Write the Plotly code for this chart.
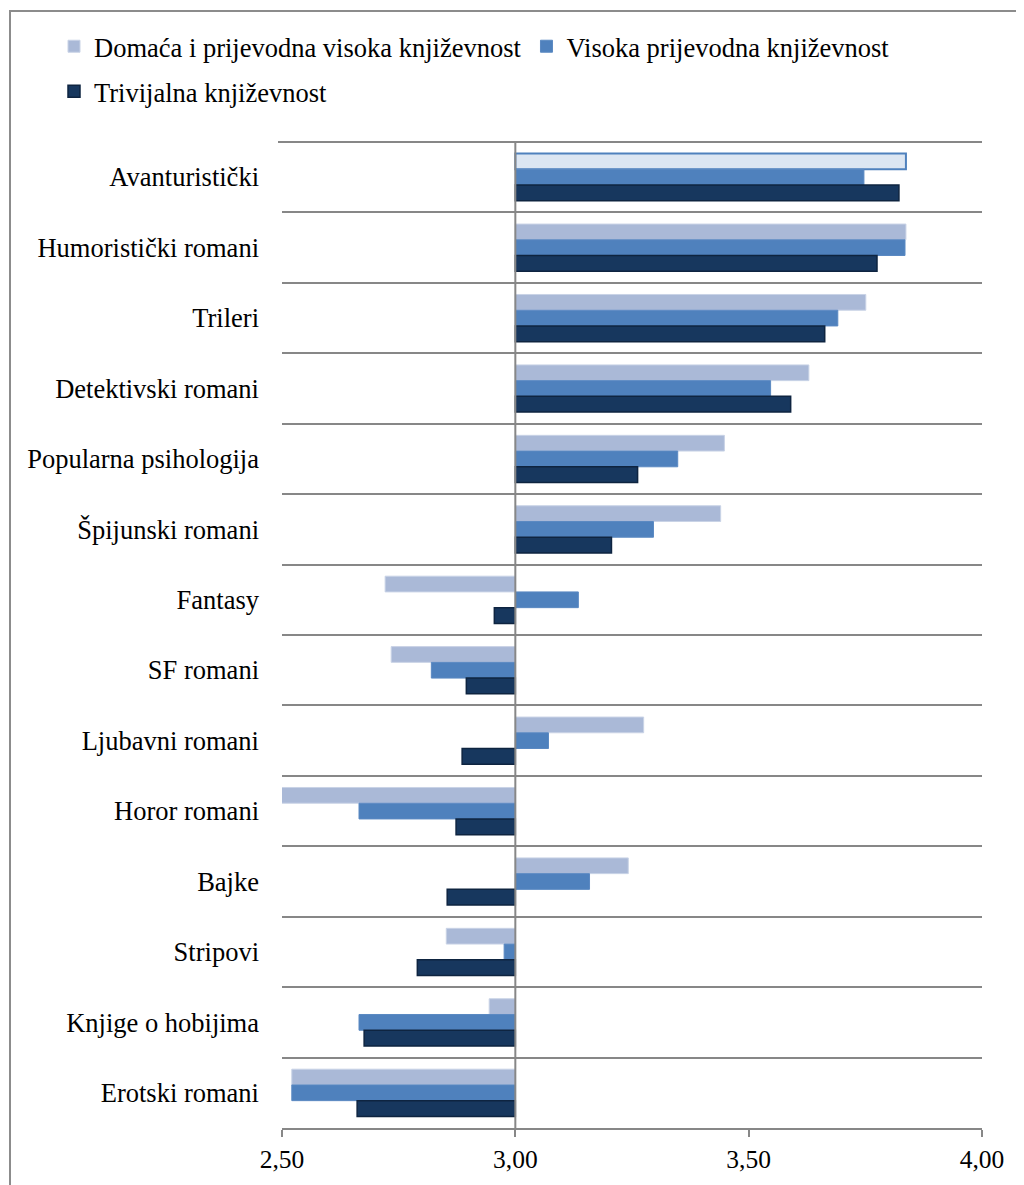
import plotly.graph_objects as go

categories = ["Avanturistički", "Humoristički romani", "Trileri", "Detektivski romani",
              "Popularna psihologija", "Špijunski romani", "Fantasy", "SF romani",
              "Ljubavni romani", "Horor romani", "Bajke", "Stripovi",
              "Knjige o hobijima", "Erotski romani"]

series_names = ["Domaća i prijevodna visoka književnost",
                "Visoka prijevodna književnost",
                "Trivijalna književnost"]

domaca = [3.837, 3.837, 3.751, 3.629, 3.448, 3.440, 2.721, 2.734, 3.275, 2.49, 3.242, 2.852, 2.944, 2.521]
visoka = [3.747, 3.835, 3.691, 3.547, 3.348, 3.296, 3.135, 2.820, 3.071, 2.665, 3.159, 2.976, 2.665, 2.521]
trivijalna = [3.822, 3.775, 3.663, 3.590, 3.262, 3.206, 2.955, 2.895, 2.886, 2.873, 2.854, 2.790, 2.676, 2.661]

base_value = 3.0
x_ticks = [2.5, 3.0, 3.5, 4.0]

FONT = "Liberation Serif, Times New Roman, serif"
GRID = "#878787"

# the page body has an 8px margin; positions below are given in page pixels
OFF = 8
W, H = 1016, 1177
PL, PR, PT, PB = 282, 982, 142, 1128          # plot area in page pixels
ML, MT = PL - OFF, PT - OFF
MR = W - (PR - OFF)
MB = H - (PB - OFF)
PW, PH = PR - PL, PB - PT


def px_x(px):
    return (px - PL) / PW


def px_y(py):
    return 1 + (PT - py) / PH


fig = go.Figure()

n = len(categories)
light_fill = ["#DCE6F2"] + ["#AAB9D7"] * (n - 1)
light_line = ["#4F81BD"] + ["#C9D3E6"] * (n - 1)
light_lw = [2] + [1] * (n - 1)

specs = [
    (domaca, dict(color=light_fill[::-1], line=dict(color=light_line[::-1], width=light_lw[::-1])), "legend"),
    (visoka, dict(color="#4F81BD", line=dict(color="#5B89C2", width=1)), "legend"),
    (trivijalna, dict(color="#17375E", line=dict(color="#0E2440", width=1.5)), "legend2"),
]

# data passed bottom-to-top so the legend swatch takes a regular point's style
for name, (vals, marker, leg) in zip(series_names, specs):
    fig.add_trace(go.Bar(
        name=name,
        y=categories[::-1],
        x=[v - base_value for v in vals[::-1]],
        base=base_value,
        orientation="h",
        marker=marker,
        legend=leg,
        customdata=vals[::-1],
        hovertemplate="%{y}: %{customdata:.2f}<extra>" + name + "</extra>",
    ))

fig.update_layout(
    width=W, height=H,
    margin=dict(l=ML, r=MR, t=MT, b=MB, pad=0),
    paper_bgcolor="white", plot_bgcolor="white",
    barmode="group", bargap=0.33, bargroupgap=0,
    separators=", ",
    font=dict(family=FONT, size=26, color="#000000"),
    showlegend=True,
    legend=dict(orientation="h", x=px_x(54), xanchor="left", y=px_y(46.5), yanchor="middle",
                font=dict(family=FONT, size=26.5, color="#000"), itemwidth=30,
                bgcolor="rgba(0,0,0,0)", traceorder="normal"),
    legend2=dict(orientation="h", x=px_x(54), xanchor="left", y=px_y(91.5), yanchor="middle",
                 font=dict(family=FONT, size=26.5, color="#000"), itemwidth=30,
                 bgcolor="rgba(0,0,0,0)"),
    xaxis=dict(range=[2.5, 4.0], tickvals=x_ticks, tickformat=".2f",
               showgrid=False, zeroline=False, showline=True, linecolor=GRID, linewidth=2,
               ticks="outside", ticklen=7, tickcolor=GRID, tickwidth=2,
               tickfont=dict(family=FONT, size=25.5, color="#000")),
    yaxis=dict(type="category", categoryorder="array", categoryarray=categories,
               autorange="reversed", tickson="boundaries",
               showgrid=True, gridcolor=GRID, gridwidth=2, showline=False,
               ticks="", ticklabelstandoff=22,
               tickfont=dict(family=FONT, size=26.5, color="#000")),
)

# vertical axis line crossing at 3,00
fig.add_shape(type="line", xref="x", yref="paper", x0=base_value, x1=base_value, y0=0, y1=1,
              line=dict(color=GRID, width=2), layer="above")
# top gridline of plot area
fig.add_shape(type="line", xref="paper", yref="paper", x0=px_x(278), x1=1, y0=1, y1=1,
              line=dict(color=GRID, width=2), layer="below")
# chart frame
fig.add_shape(type="rect", xref="paper", yref="paper",
              x0=px_x(10), x1=px_x(1060), y0=px_y(1220), y1=px_y(11),
              line=dict(color="#8C8C8C", width=2), fillcolor="rgba(0,0,0,0)", layer="below")

fig.write_html("out.html")
